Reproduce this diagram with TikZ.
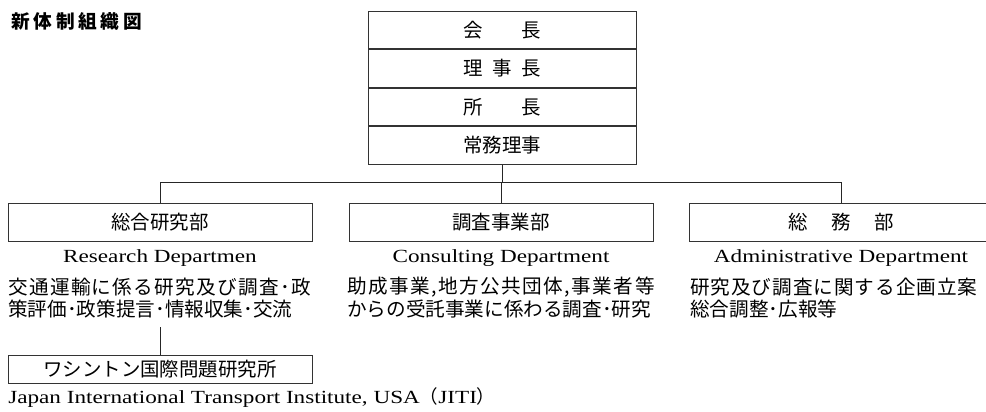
\documentclass[tikz,border=0pt]{standalone}
\usepackage{fontspec}
\setmainfont{Liberation Serif}[FakeStretch=1.25]
\newfontfamily\jp{Noto Sans CJK JP}
\usetikzlibrary{positioning}
\begin{document}
\begin{tikzpicture}[x=0.75pt,y=-0.75pt,
  post/.style={draw=black!80,line width=0.6pt,minimum width=201pt,minimum height=28.3pt,inner sep=0pt,font=\jp\fontsize{14.6pt}{16pt}\selectfont},
  dept/.style={post,minimum width=228pt,minimum height=28.5pt},
  branch/.style={dept,minimum height=20.7pt},
  eng/.style={inner sep=0pt,font=\fontsize{13.9pt}{16pt}\selectfont},
  desc/.style={anchor=west,inner sep=0pt,font=\jp\fontsize{14.7pt}{16pt}\selectfont},
  link/.style={draw=black!85,line width=0.6pt}]
\useasboundingbox (0,0) rectangle (986,411);

\node[anchor=west,inner sep=0pt,font=\jp\bfseries\fontsize{14pt}{16pt}\selectfont\addfontfeature{LetterSpace=20}] (title) at (11,21) {新体制組織図};

\node[post] (kaicho) at (502,29.9) {会\hspace{2em}長};
\node[post,below=0pt of kaicho] (rijicho) {理\hspace{.5em}事\hspace{.5em}長};
\node[post,below=0pt of rijicho] (shocho) {所\hspace{2em}長};
\node[post,below=0pt of shocho] (jomu) {常務理事};

\node[dept] (soken) at (160,222) {総合研究部};
\node[dept] (chosa) at (501,222) {調査事業部};
\node[dept] (somu) at (841,222) {総\hspace{1.2em}務\hspace{1.2em}部};

\coordinate (bus) at (0,182);
\draw[link] (jomu.south) -- (jomu.south |- bus);
\draw[link] (soken.north) -- (soken.north |- bus) -| (somu.north);
\draw[link] (chosa.north) -- (chosa.north |- bus);

\node[eng] (soken-en) at (160,258) {Research Departmen};
\node[eng] (chosa-en) at (501,258) {Consulting Department};
\node[eng] (somu-en) at (841,258) {Administrative Department};

\node[desc] (soken-d1) at (8,287) {\addfontfeature{LetterSpace=6.8}交通運輸に係る研究及び調査･政};
\node[desc] (soken-d2) at (8,309) {策評価･政策提言･情報収集･交流};
\node[desc] (chosa-d1) at (347,287) {\addfontfeature{LetterSpace=7.5}助成事業,地方公共団体,事業者等};
\node[desc] (chosa-d2) at (347,309) {からの受託事業に係わる調査･研究};
\node[desc] (somu-d1) at (690,287) {\addfontfeature{LetterSpace=5}研究及び調査に関する企画立案};
\node[desc] (somu-d2) at (690,309) {総合調整･広報等};

\node[branch] (jiti) at (160,369.5) {ワシントン国際問題研究所};
\coordinate (drop) at (160,327);
\draw[link] (drop) -- (jiti.north);
\node[eng,anchor=west] (jiti-en) at (8,398) {Japan International Transport Institute, USA{\jp（}JITI{\jp）}};
\end{tikzpicture}
\end{document}
